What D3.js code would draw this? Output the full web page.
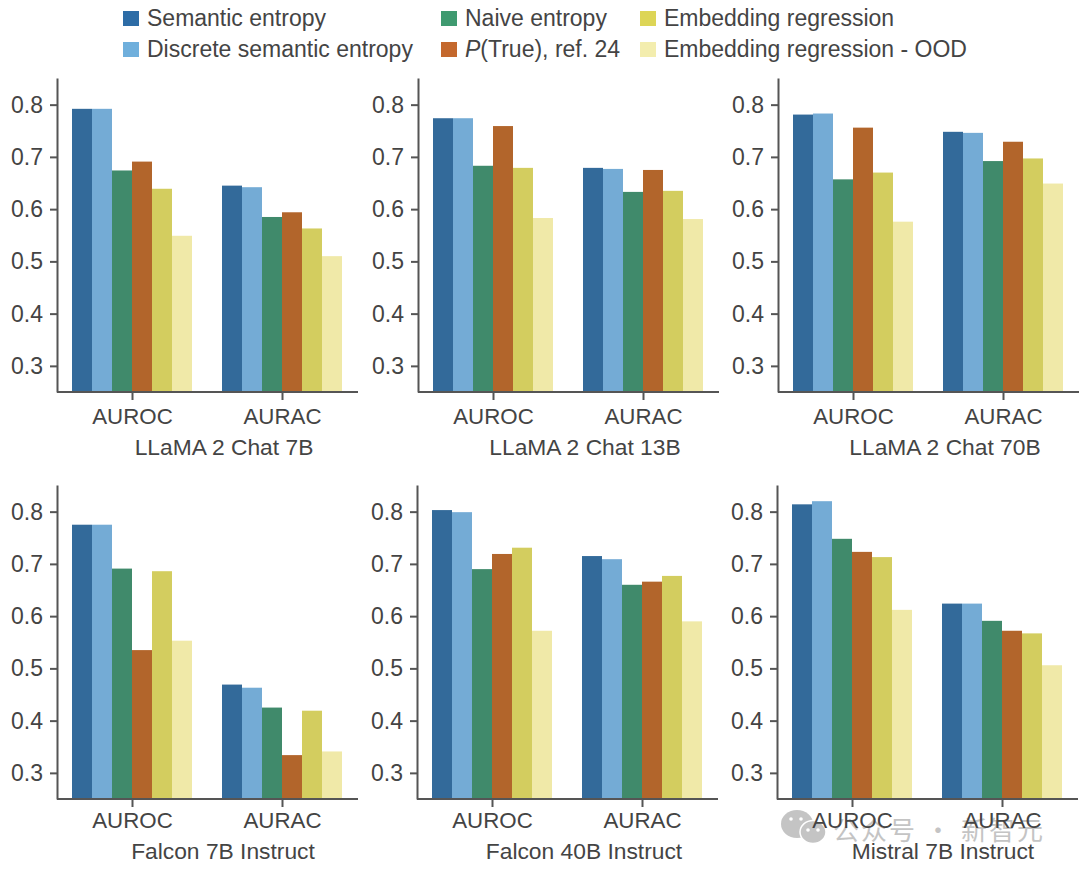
<!DOCTYPE html>
<html>
<head>
<meta charset="utf-8">
<script src="https://cdn.jsdelivr.net/npm/d3@7"></script>
<style>
  body { margin: 0; background: #fff; }
  text { font-family: "Liberation Sans", Arial, sans-serif; fill: #444; }
</style>
</head>
<body>
<script>
// values
var methods = ["Semantic entropy", "Discrete semantic entropy", "Naive entropy", "P(True), ref. 24", "Embedding regression", "Embedding regression - OOD"];
var metrics = ["AUROC", "AURAC"];
var yTicks = [0.3, 0.4, 0.5, 0.6, 0.7, 0.8];
var models = ["LLaMA 2 Chat 7B", "LLaMA 2 Chat 13B", "LLaMA 2 Chat 70B", "Falcon 7B Instruct", "Falcon 40B Instruct", "Mistral 7B Instruct"];

var llama7 = [[.792, .792, .674, .691, .639, .549], [.645, .642, .585, .594, .563, .510]];
var llama13 = [[.774, .774, .683, .759, .679, .583], [.679, .677, .633, .675, .635, .581]];
var llama70 = [[.781, .783, .657, .756, .670, .576], [.748, .746, .692, .729, .697, .649]];
var falcon7 = [[.775, .775, .691, .535, .686, .553], [.469, .463, .425, .334, .419, .341]];
var falcon40 = [[.803, .799, .690, .719, .731, .572], [.715, .709, .660, .666, .677, .590]];
var mistral7 = [[.814, .820, .748, .723, .713, .612], [.624, .624, .591, .572, .567, .506]];
var allValues = [llama7, llama13, llama70, falcon7, falcon40, mistral7];

var barColors = ["#336a9a", "#74abd5", "#408a6b", "#b2652b", "#d3cd5f", "#f0e9a8"];
var legendColors = ["#2d6ca6", "#6fafdc", "#3f9a70", "#c4682d", "#ddd556", "#f3edae"];

var svg = d3.select("body").append("svg")
    .attr("width", 1080)
    .attr("height", 872);

// watermark in the lower right corner, sits under the chart text
var mark = svg.append("g");
mark.append("ellipse").attr("cx", 797).attr("cy", 824).attr("rx", 16).attr("ry", 14).attr("fill", "#c4c4c4");
mark.append("ellipse").attr("cx", 813).attr("cy", 832).attr("rx", 13).attr("ry", 11.5).attr("fill", "#c4c4c4").attr("stroke", "#fff").attr("stroke-width", 1.5);
mark.selectAll(".eye")
    .data([[791, 819], [801, 819], [808, 830], [818, 830]])
    .enter().append("circle")
    .attr("cx", function(d) { return d[0]; })
    .attr("cy", function(d) { return d[1]; })
    .attr("r", 1.8)
    .attr("fill", "#fff");
mark.append("text")
    .attr("x", 833)
    .attr("y", 840)
    .attr("font-size", 26)
    .style("font-family", '"Noto Sans CJK SC"')
    .style("fill", "#c4c4c4")
    .attr("textLength", 210)
    .text("公众号 · 新智元");

// panel layout
var panelLeft = [57, 418, 778, 57, 417, 777];
var panelTop = [78, 78, 78, 485, 485, 485];
var titleX = [224, 585, 945, 223, 584, 943];
var titleY = [455, 455, 455, 859, 859, 859];
var labelPad = [8, 8, 8, 5, 5, 5];
var panelW = 301, panelH = 314;

var y = d3.scaleLinear().domain([0.25, 0.851]).range([panelH, 0]);
var x = d3.scalePoint().domain(metrics).range([75, 225]);
var inner = d3.scaleBand().domain(d3.range(6)).range([-60, 60]);

allValues.forEach(function(values, p) {
    var g = svg.append("g")
        .attr("transform", "translate(" + panelLeft[p] + "," + panelTop[p] + ")");

    metrics.forEach(function(m, i) {
        g.selectAll(".bar" + i)
            .data(values[i])
            .enter().append("rect")
            .attr("x", function(d, k) { return x(m) + inner(k); })
            .attr("y", function(d) { return y(d); })
            .attr("width", inner.bandwidth())
            .attr("height", function(d) { return panelH - y(d); })
            .attr("fill", function(d, k) { return barColors[k]; });
    });

    var yAxis = g.append("g")
        .call(d3.axisLeft(y).tickValues(yTicks).tickFormat(d3.format(".1f")).tickSizeInner(7).tickSizeOuter(0).tickPadding(7));
    var xAxis = g.append("g")
        .attr("transform", "translate(0," + panelH + ")")
        .call(d3.axisBottom(x).tickSizeInner(8).tickSizeOuter(0).tickPadding(labelPad[p]));
    // the baseline runs past the bars on both sides
    xAxis.select("path").attr("d", "M0,0H" + panelW);

    [yAxis, xAxis].forEach(function(a) {
        a.selectAll("path").attr("stroke", "#555").attr("stroke-width", 2);
        a.selectAll("line").attr("stroke", "#555").attr("stroke-width", 2);
        a.selectAll("text").attr("font-family", null);
    });
    yAxis.selectAll("text").attr("font-size", 23);
    xAxis.selectAll("text").attr("font-size", 22.3);

    svg.append("text")
        .attr("x", titleX[p])
        .attr("y", titleY[p])
        .attr("text-anchor", "middle")
        .attr("font-size", 22.8)
        .text(models[p]);
});

// legend, three columns
var legendX = [123, 123, 441, 441, 640, 640];
var legendY = [11, 42, 11, 42, 11, 42];
var legend = svg.selectAll(".legend")
    .data(methods)
    .enter().append("g")
    .attr("transform", function(d, i) { return "translate(" + legendX[i] + "," + legendY[i] + ")"; });

legend.append("rect")
    .attr("width", 16)
    .attr("height", 15)
    .attr("fill", function(d, i) { return legendColors[i]; });

legend.append("text")
    .attr("x", 24)
    .attr("y", 15)
    .attr("font-size", 23)
    .each(function(d) {
        var t = d3.select(this);
        if (d.indexOf("P(") === 0) {
            t.append("tspan").attr("font-style", "italic").text("P");
            t.append("tspan").text(d.slice(1));
        } else {
            t.text(d);
        }
    });
</script>
</body>
</html>
